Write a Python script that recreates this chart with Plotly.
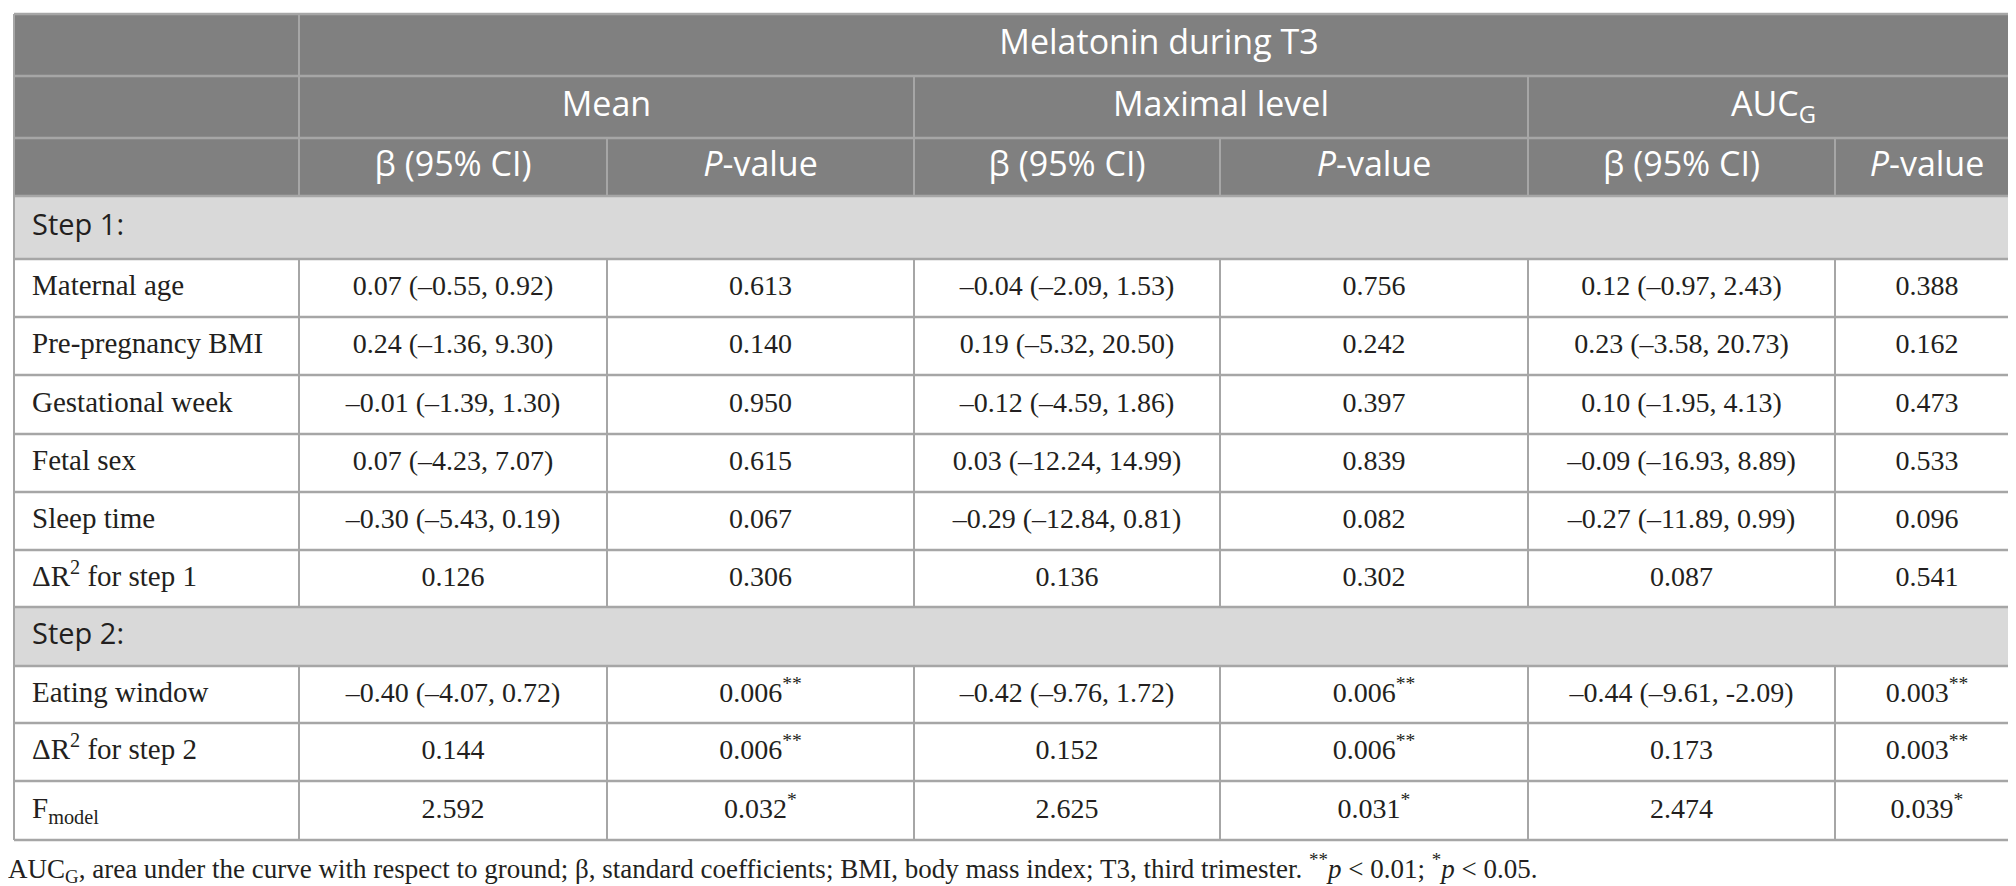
import re
import plotly.graph_objects as go

# table content
title = "Melatonin during T3"
groups = ["Mean", "Maximal level", "AUC<sub>G</sub>"]
sub_headers = ["β (95% CI)", "<i>P</i>-value"] * 3
steps = ["Step 1:", "Step 2:"]

step1_labels = ["Maternal age", "Pre-pregnancy BMI", "Gestational week", "Fetal sex",
                "Sleep time", "ΔR<sup>2</sup> for step 1"]
step2_labels = ["Eating window", "ΔR<sup>2</sup> for step 2", "F<sub>model</sub>"]

mean_beta = ["0.07 (–0.55, 0.92)", "0.24 (–1.36, 9.30)", "–0.01 (–1.39, 1.30)",
             "0.07 (–4.23, 7.07)", "–0.30 (–5.43, 0.19)", "0.126",
             "–0.40 (–4.07, 0.72)", "0.144", "2.592"]
mean_p = ["0.613", "0.140", "0.950", "0.615", "0.067", "0.306",
          "0.006**", "0.006**", "0.032*"]
max_beta = ["–0.04 (–2.09, 1.53)", "0.19 (–5.32, 20.50)", "–0.12 (–4.59, 1.86)",
            "0.03 (–12.24, 14.99)", "–0.29 (–12.84, 0.81)", "0.136",
            "–0.42 (–9.76, 1.72)", "0.152", "2.625"]
max_p = ["0.756", "0.242", "0.397", "0.839", "0.082", "0.302",
         "0.006**", "0.006**", "0.031*"]
auc_beta = ["0.12 (–0.97, 2.43)", "0.23 (–3.58, 20.73)", "0.10 (–1.95, 4.13)",
            "–0.09 (–16.93, 8.89)", "–0.27 (–11.89, 0.99)", "0.087",
            "–0.44 (–9.61, -2.09)", "0.173", "2.474"]
auc_p = ["0.388", "0.162", "0.473", "0.533", "0.096", "0.541",
         "0.003**", "0.003**", "0.039*"]

footnote = ("AUC<sub>G</sub>, area under the curve with respect to ground; β, standard coefficients; "
            "BMI, body mass index; T3, third trimester. <sup>**</sup><i>p</i> < 0.01; "
            "<sup>*</sup><i>p</i> < 0.05.")

# geometry (pixels)
W, H = 2016, 886
x0, y0 = 6, 6
col_widths = [285, 308, 307, 306, 308, 307, 184]
row_heights = [62, 62, 58, 63, 58, 58, 59, 58, 58, 57, 59, 57, 58, 59]
label_x = 24  # scatter text sits ~9px right of its point

col_edges = [x0]
for w in col_widths:
    col_edges.append(col_edges[-1] + w)
row_edges = [y0]
for h in row_heights:
    row_edges.append(row_edges[-1] + h)

n_head = 3
step_rows = [n_head, n_head + 1 + len(step1_labels)]
data_rows = [r for r in range(n_head, len(row_heights)) if r not in step_rows]

HEAD_BG = "#808080"
STEP_BG = "#d9d9d9"
LINE = "#a6a6a6"
TXT = "#231f20"


def cx(c):
    return (col_edges[c] + col_edges[c + 1]) / 2


def cy(r):
    return (row_edges[r] + row_edges[r + 1]) / 2


def star(s):
    return re.sub(r"(\*+)$", r"<sup>\1</sup>", s)


shapes = []
left, right = col_edges[0], col_edges[-1]
# fills
shapes.append(dict(type="rect", x0=left, x1=right, y0=row_edges[0], y1=row_edges[n_head],
                   fillcolor=HEAD_BG, line_width=0, layer="below"))
for r in step_rows:
    shapes.append(dict(type="rect", x0=left, x1=right, y0=row_edges[r], y1=row_edges[r + 1],
                       fillcolor=STEP_BG, line_width=0, layer="below"))
# horizontal lines
for y in row_edges:
    shapes.append(dict(type="line", x0=left, x1=right, y0=y, y1=y, layer="below",
                       line=dict(color=LINE, width=2.5)))
# vertical lines: (column edge index, first header row where it appears)
v_lines = [(0, 0), (1, 0), (2, 2), (3, 1), (4, 2), (5, 1), (6, 2), (7, 0)]
for ci, start in v_lines:
    x = col_edges[ci]
    outer = ci in (0, len(col_edges) - 1)
    if outer:
        segs = [(0, len(row_heights))]
    else:
        segs = [(start, n_head), (step_rows[0] + 1, step_rows[1]), (step_rows[1] + 1, len(row_heights))]
    for a, b in segs:
        shapes.append(dict(type="line", x0=x, x1=x, y0=row_edges[a], y1=row_edges[b],
                           layer="below", line=dict(color=LINE, width=2)))

fig = go.Figure()

# header text
hx = [(col_edges[1] + col_edges[-1]) / 2]
hy = [cy(0)]
ht = [title]
for g, text in enumerate(groups):
    hx.append((col_edges[1 + 2 * g] + col_edges[3 + 2 * g]) / 2)
    hy.append(cy(1))
    ht.append(text)
for c, text in enumerate(sub_headers):
    hx.append(cx(c + 1))
    hy.append(cy(2))
    ht.append(text)
fig.add_trace(go.Scatter(x=hx, y=hy, text=ht, mode="text", textposition="middle center",
                         textfont=dict(family="Open Sans", size=34, color="white"),
                         hoverinfo="skip"))

# step rows
fig.add_trace(go.Scatter(x=[label_x] * len(steps), y=[cy(r) for r in step_rows], text=steps,
                         mode="text", textposition="middle right",
                         textfont=dict(family="Open Sans", size=29, color=TXT),
                         hoverinfo="skip"))

# row labels
labels = step1_labels + step2_labels
fig.add_trace(go.Scatter(x=[label_x] * len(labels), y=[cy(r) for r in data_rows], text=labels,
                         mode="text", textposition="middle right",
                         textfont=dict(family="Liberation Serif", size=29, color=TXT),
                         hoverinfo="skip"))

# values
columns = [mean_beta, mean_p, max_beta, max_p, auc_beta, auc_p]
vx, vy, vt = [], [], []
for c, vals in enumerate(columns):
    for r, v in zip(data_rows, vals):
        vx.append(cx(c + 1))
        vy.append(cy(r))
        vt.append(star(v))
fig.add_trace(go.Scatter(x=vx, y=vy, text=vt, mode="text", textposition="middle center",
                         textfont=dict(family="Liberation Serif", size=28, color=TXT),
                         hoverinfo="skip"))

# footnote
fig.add_trace(go.Scatter(x=[0], y=[863], text=[footnote], mode="text",
                         textposition="middle right",
                         textfont=dict(family="Liberation Serif", size=27, color=TXT),
                         hoverinfo="skip"))

fig.update_layout(
    width=W, height=H,
    margin=dict(l=0, r=0, t=0, b=0),
    paper_bgcolor="white", plot_bgcolor="white",
    showlegend=False,
    shapes=shapes,
    xaxis=dict(range=[0, W], visible=False, fixedrange=True),
    yaxis=dict(range=[H, 0], visible=False, fixedrange=True),
)

fig.write_html("out.html", config={"displayModeBar": False})
